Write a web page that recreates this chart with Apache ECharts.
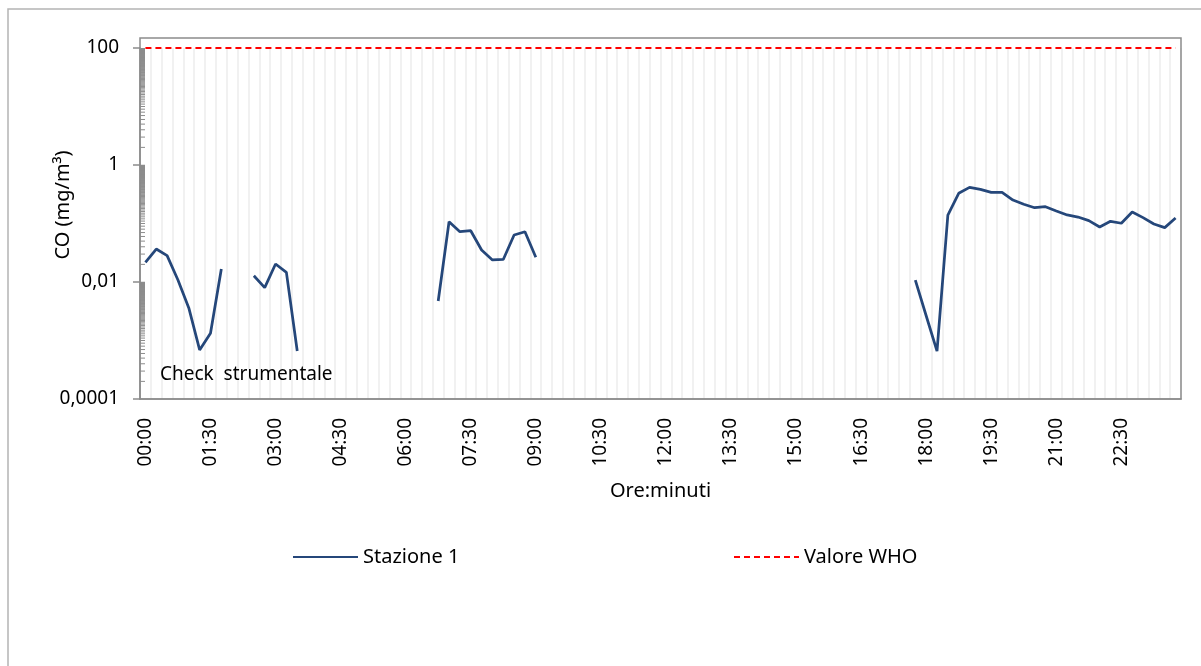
<!DOCTYPE html>
<html>
<head>
<meta charset="utf-8">
<title>CO Stazione 1</title>
<script src="https://cdn.jsdelivr.net/npm/echarts@6/dist/echarts.min.js"></script>
<style>
    html, body {
        margin: 0;
        padding: 0;
        background: #fff;
    }
    #myChart {
        width: 1201px;
        height: 666px;
    }
</style>
</head>
<body>
<div id="myChart"></div>
<script>
    // orari ogni 15 minuti
    let categories = [];
    for (let h = 0; h < 24; h++) {
        for (let m = 0; m < 60; m += 15) {
            categories.push((h < 10 ? '0' : '') + h + ':' + (m < 10 ? '0' : '') + m);
        }
    }

    // Stazione 1, CO in mg/m3 (null = nessun dato)
    let stazione1 = [
        0.0217, 0.0366, 0.0282, 0.0108, 0.0036, 0.00069, 0.00133, 0.0167,
        null, null,
        0.0128, 0.0080, 0.0203, 0.0146, 0.00066,
        null, null, null, null, null, null, null, null, null, null, null, null,
        0.00473, 0.107, 0.0724, 0.0753, 0.0352, 0.0238, 0.0243, 0.0636, 0.0724, 0.0264,
        null, null, null, null, null, null, null, null, null, null,
        null, null, null, null, null, null, null, null, null, null,
        null, null, null, null, null, null, null, null, null, null,
        null, null, null, null,
        0.0108, 0.00265, 0.00066, 0.1396, 0.328, 0.415, 0.384, 0.341, 0.341, 0.252,
        0.213, 0.186, 0.194, 0.164, 0.140, 0.129, 0.112, 0.087, 0.109, 0.101,
        0.157, 0.126, 0.098, 0.085, 0.124
    ];

    let valoreWHO = 100;
    let yTickLabels = ['0,0001', '0,01', '1', '100'];
    // inizio di ogni intervallo dell'asse log (base 100)
    let yDecadi = [0.0001, 0.01, 1];

    let font = 'Noto Sans';
    let axisGrey = '#8c8c8c';

    let option = {
        backgroundColor: '#fff',
        animation: false,
        textStyle: {
            fontFamily: font,
            color: '#000'
        },
        graphic: [{
            type: 'rect',
            shape: { x: 8, y: 9, width: 1240, height: 720 },
            style: { fill: 'none', stroke: '#b4b4b4', lineWidth: 1.5 },
            silent: true
        }, {
            type: 'rect',
            shape: { x: 140, y: 38, width: 1041, height: 361 },
            style: { fill: 'none', stroke: axisGrey, lineWidth: 1.5 },
            silent: true,
            z: 10
        }, {
            type: 'text',
            left: 160,
            top: 365,
            z: 20,
            style: {
                text: 'Check  strumentale',
                font: '19px "Noto Sans"',
                fill: '#000'
            }
        }],
        legend: [{
            data: ['Stazione 1'],
            left: 292,
            top: 547,
            padding: 0,
            itemWidth: 65,
            itemHeight: 20,
            itemStyle: { opacity: 0 },
            textStyle: { fontSize: 20, fontFamily: font, color: '#000' }
        }, {
            data: ['Valore WHO'],
            left: 733,
            top: 547,
            padding: 0,
            itemWidth: 65,
            itemHeight: 20,
            itemStyle: { opacity: 0 },
            textStyle: { fontSize: 20, fontFamily: font, color: '#000' }
        }],
        grid: {
            left: 140,
            right: 20,
            top: 48,
            bottom: 267
        },
        xAxis: {
            type: 'category',
            data: categories,
            boundaryGap: true,
            name: 'Ore:minuti',
            nameLocation: 'middle',
            nameGap: 82,
            nameMoveOverlap: false,
            nameTextStyle: { fontSize: 20, fontFamily: font, color: '#000' },
            axisLine: { lineStyle: { color: axisGrey, width: 1.5 } },
            axisTick: {
                interval: 0,
                length: 6,
                lineStyle: { color: axisGrey, width: 1.5 }
            },
            axisLabel: {
                interval: 5,
                rotate: 90,
                margin: 19,
                fontSize: 19,
                color: '#000'
            },
            splitLine: {
                show: true,
                interval: 0,
                lineStyle: { color: '#ececec', width: 1.5 }
            }
        },
        yAxis: {
            type: 'log',
            logBase: 100,
            min: 0.0001,
            max: 100,
            splitNumber: 3,
            name: 'CO (mg/m³)',
            nameLocation: 'middle',
            nameGap: 67,
            nameMoveOverlap: false,
            nameTextStyle: {
                fontSize: 20,
                fontFamily: font,
                color: '#000',
                padding: [0, 0, 0, 37]
            },
            axisLine: { show: true, lineStyle: { color: axisGrey, width: 1.5 } },
            axisTick: { show: true, length: 7, lineStyle: { color: axisGrey, width: 1.5 } },
            axisLabel: {
                margin: 21,
                fontSize: 19,
                color: '#000',
                formatter: function(value, index) {
                    return yTickLabels[index];
                }
            },
            splitLine: { show: false }
        },
        series: [{
            name: 'Stazione 1',
            type: 'line',
            data: stazione1,
            connectNulls: false,
            symbol: 'none',
            lineStyle: { color: '#25477a', width: 2.75 },
            itemStyle: { color: '#25477a' },
            z: 5
        }, {
            name: 'Valore WHO',
            type: 'line',
            data: [],
            symbol: 'none',
            lineStyle: { color: '#ff0000', width: 2, type: [6, 4] },
            itemStyle: { color: '#ff0000' },
            markLine: {
                silent: true,
                symbol: 'none',
                label: { show: false },
                lineStyle: { color: '#ff0000', width: 2, type: [6, 4] },
                data: [[
                    { coord: [categories[0], valoreWHO] },
                    { coord: [categories[categories.length - 1], valoreWHO] }
                ]]
            }
        }, {
            // tacche secondarie dell'asse log (stile Excel)
            name: 'minor',
            type: 'custom',
            silent: true,
            clip: true,
            z: 11,
            encode: { x: 0, y: 1 },
            data: yDecadi.map(function(v) { return [0, v]; }),
            renderItem: function(params, api) {
                let base = api.value(1);
                let x0 = params.coordSys.x;
                let children = [];
                for (let k = 2; k < 100; k++) {
                    let y = api.coord([0, base * k])[1];
                    children.push({
                        type: 'line',
                        shape: { x1: x0, y1: y, x2: x0 + 5, y2: y },
                        style: { stroke: axisGrey, lineWidth: 1 }
                    });
                }
                return { type: 'group', children: children };
            }
        }]
    };

    let myChart = echarts.init(document.getElementById('myChart'));
    myChart.setOption(option);
</script>
</body>
</html>
